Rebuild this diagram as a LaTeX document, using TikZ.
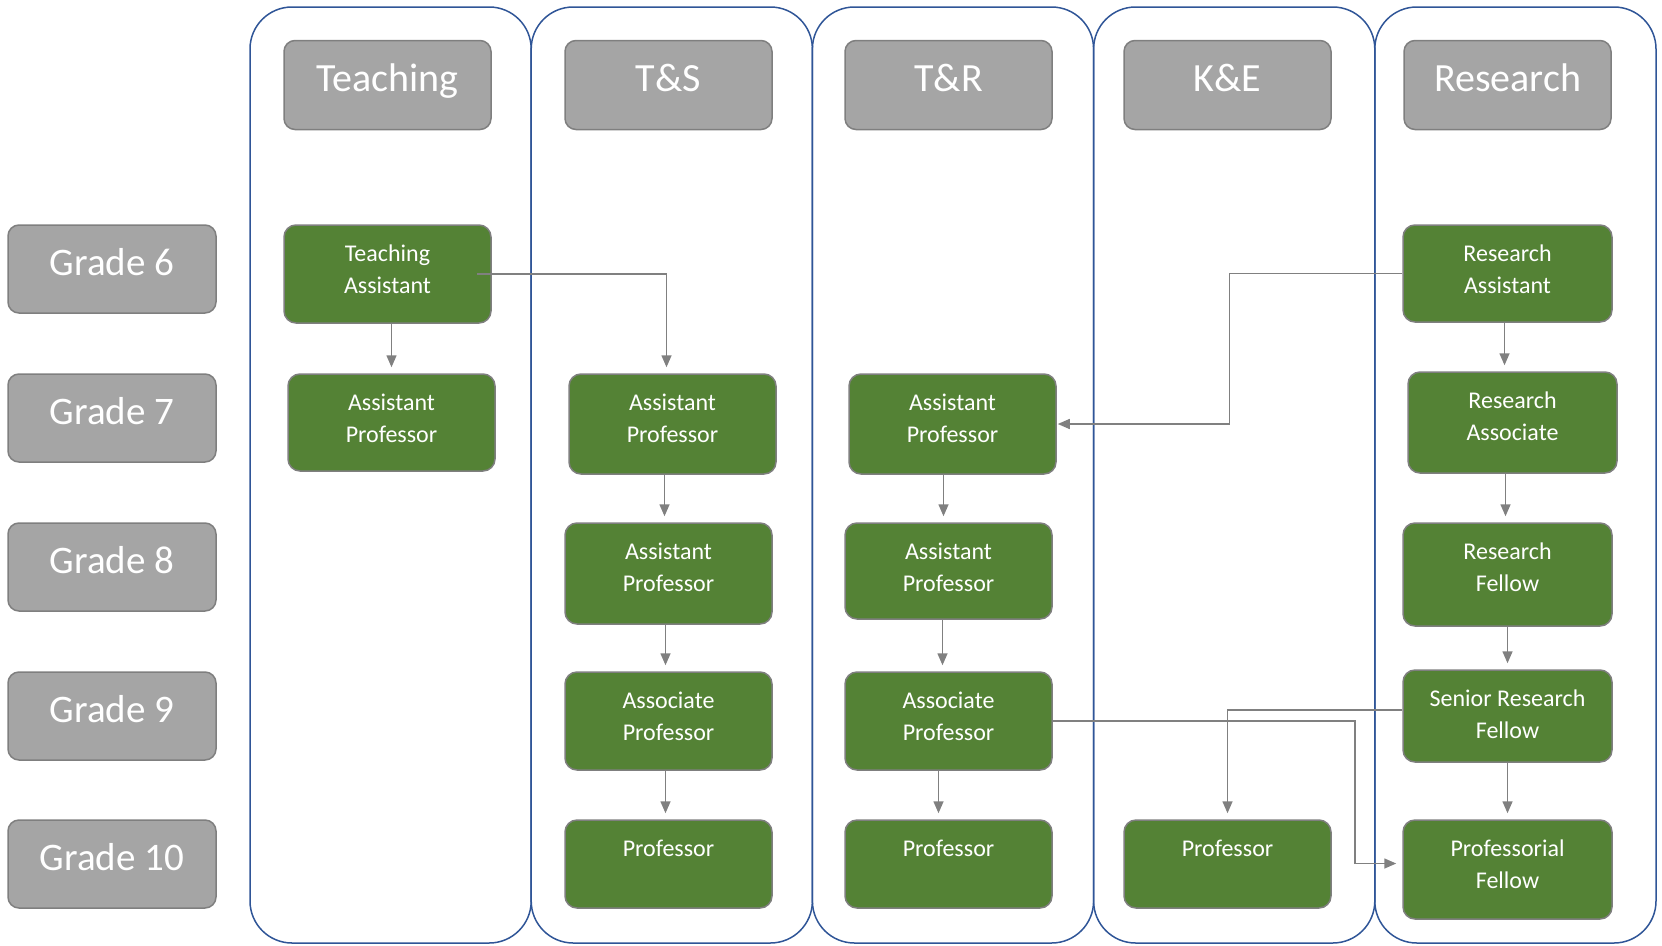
\documentclass[tikz,border=0pt]{standalone}
\usepackage{fontspec}
\setmainfont{Carlito}
\usetikzlibrary{arrows.meta,positioning}
\definecolor{lanec}{HTML}{2F5597}
\definecolor{boxgray}{HTML}{A5A5A5}
\definecolor{edgegray}{HTML}{7F7F7F}
\definecolor{rolegreen}{HTML}{548235}
\definecolor{linkgray}{HTML}{808080}

\begin{document}
\begin{tikzpicture}[x=1pt, y=-1pt,
    lane/.style={draw=lanec, line width=1.5pt, rounded corners=42pt},
    hdr/.style={draw=edgegray, line width=1.5pt, fill=boxgray, rounded corners=11pt,
                text=white, font=\fontsize{40}{44}\selectfont,
                text height=30pt, text depth=18pt,
                minimum width=207pt, minimum height=89pt, inner sep=0pt},
    grade/.style={hdr, font=\fontsize{39}{44}\selectfont, minimum width=208pt, minimum height=88pt},
    role/.style={draw=edgegray, line width=1.5pt, fill=rolegreen, rounded corners=12pt,
                 text=white, align=center, font=\fontsize{24}{32}\selectfont,
                 minimum width=207pt, minimum height=#1, inner sep=0pt,
                 text height=68pt, text depth={#1-68pt}},
    role/.default=96pt,
    link/.style={-{Triangle[length=12pt,width=10pt]}, draw=linkgray, line width=1.5pt,
                 shorten >=6pt}
]
\useasboundingbox (0,0) rectangle (1662,945);

% swim lanes
\foreach \lx in {250,531.2,812.4,1093.6,1374.8}
    \draw[lane] (\lx,7) rectangle ++(281.2,936);

% track headers
\node[hdr] (teach) at (387.5,85) {Teaching};
\node[hdr] (ts) at (668.5,85) {T\&S};
\node[hdr] (tr) at (948.5,85) {T\&R};
\node[hdr] (ke) at (1227.5,85) {K\&E};
\node[hdr] (res) at (1507.5,85) {Research};

% grades
\foreach \g/\gy in {6/269,7/418,8/567,9/716,10/864}
    \node[grade] (g\g) at (112,\gy) {Grade \g};

% teaching
\node[role=98pt] (ta) at (387.5,274) {Teaching\\Assistant};
\node[role=97pt] (tap) at (391.5,422.5) {Assistant\\Professor};

% teaching & scholarship
\node[role=100pt] (sap7) at (672.5,424) {Assistant\\Professor};
\node[role=101pt] (sap8) at (668.5,573.5) {Assistant\\Professor};
\node[role=98pt] (sasc) at (668.5,721) {Associate\\Professor};
\node[role=88pt] (sprof) at (668.5,864) {Professor\\\mbox{}};

% teaching & research
\node[role=100pt] (rap7) at (952.5,424) {Assistant\\Professor};
\node[role] (rap8) at (948.5,571) {Assistant\\Professor};
\node[role=98pt] (rasc) at (948.5,721) {Associate\\Professor};
\node[role=88pt] (rprof) at (948.5,864) {Professor\\\mbox{}};

% knowledge & enterprise
\node[role=88pt] (kprof) at (1227.5,864) {Professor\\\mbox{}};

% research
\node[role=97pt, minimum width=209pt] (resa) at (1507.5,273.5) {Research\\Assistant};
\node[role=101pt, minimum width=209pt] (resassoc) at (1512.5,422.5) {Research\\Associate};
\node[role=103pt, minimum width=209pt] (resf) at (1507.5,574.5) {Research\\Fellow};
\node[role=92pt, minimum width=209pt] (srf) at (1507.5,716) {Senior Research\\Fellow};
\node[role=99pt, minimum width=209pt] (pf) at (1507.5,869.5) {Professorial\\Fellow};

% progression
\draw[link] (tap.north |- ta.south) -- (tap.north);
\draw[link] ([xshift=-15pt]ta.east) -| ([xshift=-6pt]sap7.north);
\draw[link] ([xshift=-4pt]sap8.north |- sap7.south) -- ([xshift=-4pt]sap8.north);
\draw[link] ([xshift=-3pt]sasc.north |- sap8.south) -- ([xshift=-3pt]sasc.north);
\draw[link] ([xshift=-3pt]sprof.north |- sasc.south) -- ([xshift=-3pt]sprof.north);
\draw[link] ([xshift=-5pt]rap8.north |- rap7.south) -- ([xshift=-5pt]rap8.north);
\draw[link] ([xshift=-6pt]rasc.north |- rap8.south) -- ([xshift=-6pt]rasc.north);
\draw[link] ([xshift=-10pt]rprof.north |- rasc.south) -- ([xshift=-10pt]rprof.north);
\draw[link] ([xshift=-8pt]resassoc.north |- resa.south) -- ([xshift=-8pt]resassoc.north);
\draw[link] ([xshift=-2pt]resf.north |- resassoc.south) -- ([xshift=-2pt]resf.north);
\draw[link] (resf.south) -- (srf.north);
\draw[link] (srf.south) -- (pf.north);
\draw[link, shorten >=1pt] (resa.west) -- ++(-173,0) |- (rap7.east);
\draw[link] ([yshift=6pt]srf.west) -| (kprof.north);
\draw[link] (rasc.east) -- ++(302,0) |- ([yshift=6pt]pf.west);
\end{tikzpicture}
\end{document}
